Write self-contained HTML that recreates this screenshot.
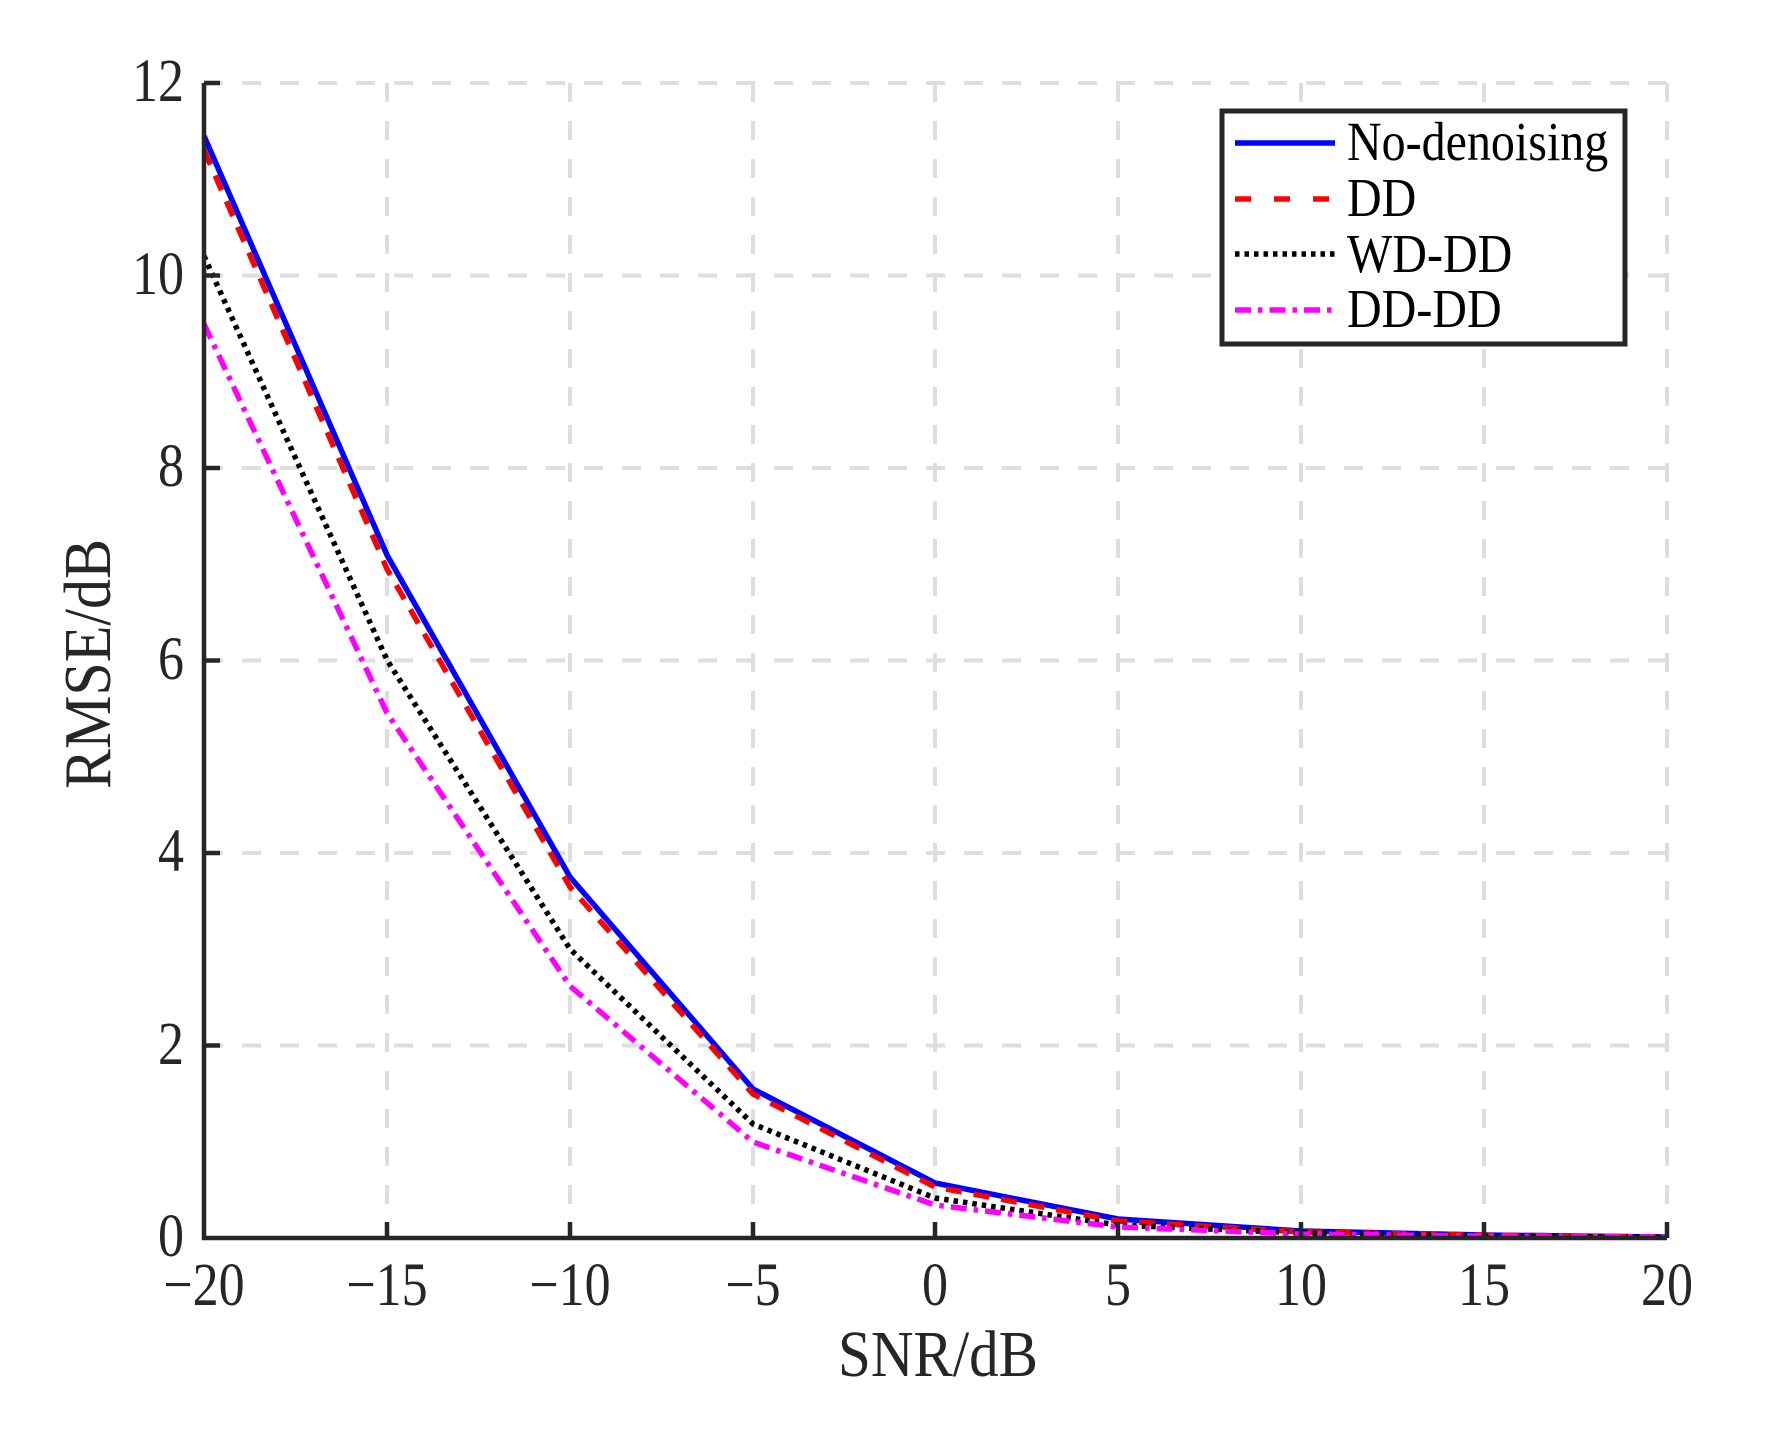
<!DOCTYPE html>
<html><head><meta charset="utf-8"><style>html,body{margin:0;padding:0;background:#fff}</style></head>
<body>
<svg width="1771" height="1430" viewBox="0 0 1771 1430" xmlns="http://www.w3.org/2000/svg" font-family="Liberation Serif, serif" fill="#262626">
<rect width="1771" height="1430" fill="#fff"/>
<g stroke="#dedede" stroke-width="4" stroke-dasharray="19,19">
<line x1="387" y1="83" x2="387" y2="1238"/>
<line x1="570" y1="83" x2="570" y2="1238"/>
<line x1="753" y1="83" x2="753" y2="1238"/>
<line x1="935" y1="83" x2="935" y2="1238"/>
<line x1="1118" y1="83" x2="1118" y2="1238"/>
<line x1="1301" y1="83" x2="1301" y2="1238"/>
<line x1="1484" y1="83" x2="1484" y2="1238"/>
<line x1="1667" y1="83" x2="1667" y2="1238"/>
<line x1="204" y1="83" x2="1667" y2="83"/>
<line x1="204" y1="275.5" x2="1667" y2="275.5"/>
<line x1="204" y1="468" x2="1667" y2="468"/>
<line x1="204" y1="660.5" x2="1667" y2="660.5"/>
<line x1="204" y1="853" x2="1667" y2="853"/>
<line x1="204" y1="1045.5" x2="1667" y2="1045.5"/>
</g>
<g fill="none" stroke-width="5.5" stroke-linejoin="round">
<polyline stroke="#0000ff" points="204,136 387,555 570,877 753,1089 935,1183 1118,1219 1301,1231 1484,1235 1667,1237"/>
<polyline stroke="#ff0000" stroke-dasharray="16,12" points="204,150 387,569 570,887 753,1094 935,1187 1118,1221 1301,1232 1484,1235 1667,1237"/>
<polyline stroke="#000" stroke-dasharray="4.5,5" points="204,256 387,660 570,949 753,1124 935,1198 1118,1225 1301,1233 1484,1236 1667,1237"/>
<polyline stroke="#ff00ff" stroke-dasharray="16,7,4.5,7" points="204,324 387,713 570,986 753,1142 935,1205 1118,1227 1301,1234 1484,1236 1667,1237"/>
</g>
<g stroke="#262626" stroke-width="4.5" fill="none">
<polyline points="204,83 204,1238 1667,1238"/>
<line x1="204" y1="83" x2="220" y2="83"/><line x1="204" y1="275.5" x2="220" y2="275.5"/><line x1="204" y1="468" x2="220" y2="468"/><line x1="204" y1="660.5" x2="220" y2="660.5"/><line x1="204" y1="853" x2="220" y2="853"/><line x1="204" y1="1045.5" x2="220" y2="1045.5"/>
<line x1="387" y1="1238" x2="387" y2="1222"/><line x1="570" y1="1238" x2="570" y2="1222"/><line x1="753" y1="1238" x2="753" y2="1222"/><line x1="935" y1="1238" x2="935" y2="1222"/><line x1="1118" y1="1238" x2="1118" y2="1222"/><line x1="1301" y1="1238" x2="1301" y2="1222"/><line x1="1484" y1="1238" x2="1484" y2="1222"/><line x1="1667" y1="1238" x2="1667" y2="1222"/>
</g>
<g font-size="52" text-anchor="end">
<text transform="translate(184,101) scale(1,1.18)">12</text>
<text transform="translate(184,294) scale(1,1.18)">10</text>
<text transform="translate(184,486) scale(1,1.18)">8</text>
<text transform="translate(184,679) scale(1,1.18)">6</text>
<text transform="translate(184,871) scale(1,1.18)">4</text>
<text transform="translate(184,1064) scale(1,1.18)">2</text>
<text transform="translate(184,1256) scale(1,1.18)">0</text>
</g>
<g font-size="52" text-anchor="middle">
<text transform="translate(204,1305) scale(1,1.18)">−20</text>
<text transform="translate(387,1305) scale(1,1.18)">−15</text>
<text transform="translate(570,1305) scale(1,1.18)">−10</text>
<text transform="translate(753,1305) scale(1,1.18)">−5</text>
<text transform="translate(935,1305) scale(1,1.18)">0</text>
<text transform="translate(1118,1305) scale(1,1.18)">5</text>
<text transform="translate(1301,1305) scale(1,1.18)">10</text>
<text transform="translate(1484,1305) scale(1,1.18)">15</text>
<text transform="translate(1667,1305) scale(1,1.18)">20</text>
<text font-size="59" transform="translate(938,1376) scale(1,1.12)">SNR/dB</text>
<text font-size="60" transform="translate(110,664) rotate(-90) scale(1,1.12)">RMSE/dB</text>
</g>
<rect x="1222" y="111" width="403" height="233" fill="#fff" stroke="#262626" stroke-width="5"/>
<g stroke-width="5.5" fill="none">
<line x1="1235" y1="143" x2="1335" y2="143" stroke="#0000ff"/>
<line x1="1235" y1="199" x2="1335" y2="199" stroke="#ff0000" stroke-dasharray="16,23"/>
<line x1="1235" y1="254" x2="1335" y2="254" stroke="#000" stroke-dasharray="4.5,5"/>
<line x1="1235" y1="310" x2="1335" y2="310" stroke="#ff00ff" stroke-dasharray="16,7,4.5,7"/>
</g>
<g font-size="48" fill="#000">
<text transform="translate(1347,160) scale(1,1.15)">No-denoising</text>
<text transform="translate(1347,216) scale(1,1.15)">DD</text>
<text transform="translate(1347,272) scale(1,1.15)">WD-DD</text>
<text transform="translate(1347,327) scale(1,1.15)">DD-DD</text>
</g>
</svg>
</body></html>
